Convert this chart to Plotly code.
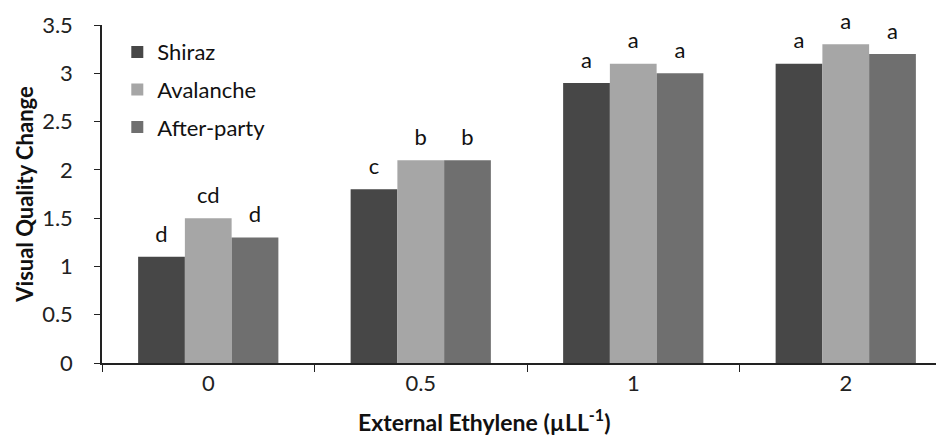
import plotly.graph_objects as go

categories = ["0", "0.5", "1", "2"]
series_names = ["Shiraz", "Avalanche", "After-party"]
shiraz = [1.1, 1.8, 2.9, 3.1]
avalanche = [1.5, 2.1, 3.1, 3.3]
afterparty = [1.3, 2.1, 3.0, 3.2]
shiraz_letters = ["d", "c", "a", "a"]
avalanche_letters = ["cd", "b", "a", "a"]
afterparty_letters = ["d", "b", "a", "a"]
x_title = "<b>External Ethylene (µLL<sup>-1</sup>)</b>"
y_title = "<b>Visual Quality Change</b>"

colors = ["#474747", "#a6a6a6", "#6f6f6f"]
FONT = "Lato, 'Open Sans', sans-serif"

fig = go.Figure()
for name, vals, col in zip(series_names, [shiraz, avalanche, afterparty], colors):
    fig.add_trace(go.Bar(
        x=categories, y=vals, name=name, marker_color=col,
        marker_line_width=0, offsetgroup=name, legendgroup=name,
    ))
for name, vals, letters in zip(series_names, [shiraz, avalanche, afterparty],
                               [shiraz_letters, avalanche_letters, afterparty_letters]):
    fig.add_trace(go.Scatter(
        x=categories, y=vals, mode="markers+text", text=letters,
        textposition="top center", offsetgroup=name, showlegend=False,
        marker=dict(size=14, opacity=0), hoverinfo="skip",
        textfont=dict(size=22, color="#111", family=FONT), cliponaxis=False,
    ))

fig.update_layout(
    width=944, height=439,
    margin=dict(l=94, r=0, t=17, b=84),
    paper_bgcolor="white", plot_bgcolor="white",
    barmode="group", bargap=0.34, bargroupgap=0,
    scattermode="group", scattergap=0.34,
    font=dict(family=FONT, size=20, color="#222"),
    showlegend=True,
    legend=dict(x=0.018, y=0.982, xanchor="left", yanchor="top",
                font=dict(size=22, color="#111"), tracegroupgap=6,
                itemwidth=30, bgcolor="rgba(0,0,0,0)"),
    xaxis=dict(
        showline=True, linecolor="#222", linewidth=1.5,
        ticks="outside", ticklen=7, tickcolor="#222", tickson="boundaries",
        tickfont=dict(size=22, color="#222"), automargin=False,
    ),
    yaxis=dict(
        range=[0, 3.5], dtick=0.5, showgrid=False, zeroline=False,
        showline=True, linecolor="#222", linewidth=1.5,
        ticks="outside", ticklen=6, tickcolor="#222", ticklabelstandoff=17,
        tickfont=dict(size=22, color="#222"), automargin=False,
        title=dict(text=y_title, font=dict(size=22, color="#111"), standoff=2),
    ),
    annotations=[dict(
        text=x_title, xref="paper", yref="paper", x=0.45, y=-0.17,
        xanchor="center", yanchor="middle", showarrow=False,
        font=dict(size=23, color="#111", family=FONT),
    )],
)

fig.write_html("out.html")
